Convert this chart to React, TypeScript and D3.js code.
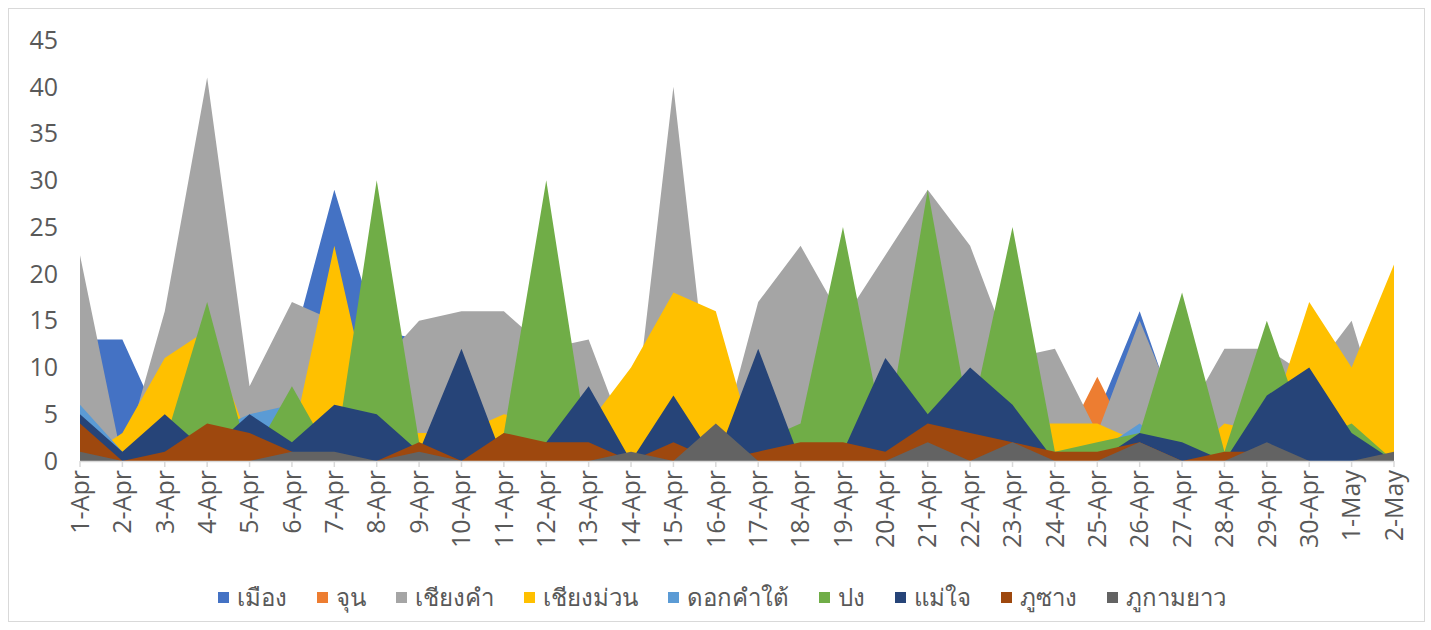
import React, { useEffect, useRef } from 'react';
import * as d3 from 'd3';

const categories = [
  '1-Apr', '2-Apr', '3-Apr', '4-Apr', '5-Apr', '6-Apr', '7-Apr', '8-Apr', '9-Apr', '10-Apr',
  '11-Apr', '12-Apr', '13-Apr', '14-Apr', '15-Apr', '16-Apr', '17-Apr', '18-Apr', '19-Apr', '20-Apr',
  '21-Apr', '22-Apr', '23-Apr', '24-Apr', '25-Apr', '26-Apr', '27-Apr', '28-Apr', '29-Apr', '30-Apr',
  '1-May', '2-May',
];

// values per district, in category order
const mueang = [13, 13, 3, 5, 3, 12, 29, 14, 13, 5, 2, 1, 3, 0, 5, 0, 3, 5, 3, 5, 4, 5, 3, 2, 5, 16, 3, 2, 3, 2, 3, 0];
const chun = [0, 0, 0, 0, 0, 0, 0, 0, 0, 0, 0, 0, 0, 0, 0, 0, 0, 0, 0, 0, 0, 0, 0, 0, 9, 0, 0, 0, 0, 0, 0, 0];
const chiangKham = [22, 0, 16, 41, 8, 17, 15, 10, 15, 16, 16, 12, 13, 1, 40, 0, 17, 23, 15, 22, 29, 23, 11, 12, 3, 15, 4, 12, 12, 9, 15, 0];
const chiangMuan = [0, 3, 11, 14, 2, 2, 23, 3, 3, 3, 5, 4, 4, 10, 18, 16, 0, 0, 0, 0, 1, 2, 4, 4, 4, 2, 0, 4, 3, 17, 10, 21];
const dokKhamTai = [6, 1, 2, 3, 5, 6, 1, 0, 0, 0, 0, 0, 0, 0, 0, 0, 0, 0, 0, 0, 0, 0, 0, 0, 1, 4, 0, 0, 0, 0, 0, 0];
const pong = [0, 0, 2, 17, 0, 8, 0, 30, 2, 0, 3, 30, 1, 0, 0, 0, 2, 4, 25, 2, 29, 4, 25, 1, 2, 3, 18, 1, 15, 2, 4, 0];
const maeChai = [5, 1, 5, 1, 5, 2, 6, 5, 1, 12, 0, 2, 8, 0, 7, 0, 12, 0, 1, 11, 5, 10, 6, 0, 0, 3, 2, 0, 7, 10, 3, 0];
const phuSang = [4, 0, 1, 4, 3, 1, 0, 0, 2, 0, 3, 2, 2, 0, 2, 0, 1, 2, 2, 1, 4, 3, 2, 1, 1, 2, 0, 1, 1, 0, 0, 0];
const phuKamyao = [1, 0, 0, 0, 0, 1, 1, 0, 1, 0, 0, 0, 0, 1, 0, 4, 0, 0, 0, 0, 2, 0, 2, 0, 0, 2, 0, 0, 2, 0, 0, 1];

const seriesNames = ['เมือง', 'จุน', 'เชียงคำ', 'เชียงม่วน', 'ดอกคำใต้', 'ปง', 'แม่ใจ', 'ภูซาง', 'ภูกามยาว'];
const seriesValues = [mueang, chun, chiangKham, chiangMuan, dokKhamTai, pong, maeChai, phuSang, phuKamyao];
const colors = ['#4472C4', '#ED7D31', '#A5A5A5', '#FFC000', '#5B9BD5', '#70AD47', '#264478', '#9E480E', '#636363'];

const yTicks = [0, 5, 10, 15, 20, 25, 30, 35, 40, 45];

const App = () => {
  const svgRef = useRef<SVGSVGElement>(null);

  useEffect(() => {
    if (!svgRef.current) return;
    const width = 1431;
    const height = 630;
    const font = '"Segoe UI", "Open Sans", "Noto Sans", sans-serif';

    const svg = d3.select(svgRef.current);
    svg.selectAll('*').remove();
    svg.attr('width', width).attr('height', height);

    // chart frame
    svg.append('rect')
      .attr('x', 8.5).attr('y', 8.5)
      .attr('width', 1416).attr('height', 613)
      .attr('fill', '#fff')
      .attr('stroke', '#d9d9d9');

    const x = d3.scalePoint<string>().domain(categories).range([80, 1394]);
    const y = d3.scaleLinear().domain([0, 45]).range([461, 40]);

    // areas, first series at the back
    const area = d3.area<number>()
      .x((d, i) => x(categories[i]) as number)
      .y0(y(0))
      .y1(d => y(d));

    svg.append('g')
      .selectAll('path')
      .data(seriesValues)
      .join('path')
      .attr('d', d => area(d))
      .attr('fill', (d, i) => colors[i]);

    // y axis labels (no line, no gridlines)
    svg.append('g')
      .selectAll('text')
      .data(yTicks)
      .join('text')
      .attr('x', 58)
      .attr('y', d => y(d))
      .attr('dy', '0.35em')
      .attr('text-anchor', 'end')
      .attr('font-family', font)
      .attr('font-size', 25)
      .attr('fill', '#595959')
      .text(d => d);

    // x axis line with ticks
    const xAxis = svg.append('g');
    xAxis.append('line')
      .attr('x1', 80).attr('x2', 1394)
      .attr('y1', 461.5).attr('y2', 461.5)
      .attr('stroke', '#d9d9d9').attr('stroke-width', 1.5);
    xAxis.selectAll('line.tick')
      .data(categories)
      .join('line')
      .attr('class', 'tick')
      .attr('x1', d => (x(d) as number)).attr('x2', d => (x(d) as number))
      .attr('y1', 461).attr('y2', 467)
      .attr('stroke', '#d9d9d9').attr('stroke-width', 1.5);
    xAxis.selectAll('text')
      .data(categories)
      .join('text')
      .attr('transform', d => `translate(${x(d)},470) rotate(-90)`)
      .attr('dy', '0.35em')
      .attr('text-anchor', 'end')
      .attr('font-family', font)
      .attr('font-size', 25)
      .attr('fill', '#595959')
      .text(d => d);

    // legend, centered below
    const legend = svg.append('g');
    const items = legend.selectAll('g')
      .data(seriesNames)
      .join('g');
    items.append('rect')
      .attr('width', 11).attr('height', 11)
      .attr('y', -6)
      .attr('fill', (d, i) => colors[i]);
    items.append('text')
      .attr('x', 19)
      .attr('dy', '0.35em')
      .attr('font-family', font)
      .attr('font-size', 24)
      .attr('fill', '#595959')
      .text(d => d);

    const widths: number[] = [];
    items.select('text').each(function () {
      widths.push((this as SVGTextElement).getComputedTextLength());
    });
    const gap = 30;
    const total = d3.sum(widths.map(w => 19 + w)) + gap * (widths.length - 1);
    let cx = 722 - total / 2;
    items.attr('transform', (d, i) => {
      const t = `translate(${cx},598)`;
      cx += 19 + widths[i] + gap;
      return t;
    });
  }, []);

  return (
    <svg ref={svgRef} style={{ position: 'absolute', left: 0, top: 0 }}></svg>
  );
};

export default App;
